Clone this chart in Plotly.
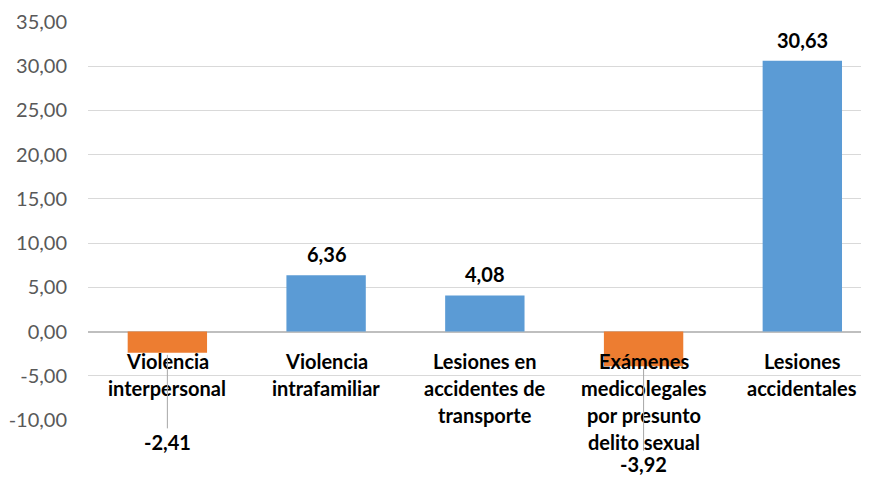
import plotly.graph_objects as go

categories = [
    "Violencia interpersonal",
    "Violencia intrafamiliar",
    "Lesiones en accidentes de transporte",
    "Exámenes medicolegales por presunto delito sexual",
    "Lesiones accidentales",
]
label_lines = [
    ["Violencia", "interpersonal"],
    ["Violencia", "intrafamiliar"],
    ["Lesiones en", "accidentes de", "transporte"],
    ["Exámenes", "medicolegales", "por presunto", "delito sexual"],
    ["Lesiones", "accidentales"],
]
values = [-2.41, 6.36, 4.08, -3.92, 30.63]
tick_values = [-10, -5, 0, 5, 10, 15, 20, 25, 30, 35]
tick_labels = ["-10,00", "-5,00", "0,00", "5,00", "10,00", "15,00",
               "20,00", "25,00", "30,00", "35,00"]
neg_label_offsets = {0: 89, 3: 98}

BLUE = "#5b9bd5"
ORANGE = "#ed7d31"
colors = [BLUE if v >= 0 else ORANGE for v in values]

def fmt(v):
    return f"{v:.2f}".replace(".", ",")

fig = go.Figure()
fig.add_trace(go.Bar(
    x=categories, y=values, width=0.5,
    marker=dict(color=colors, line=dict(width=0)),
    hoverinfo="skip",
))

FONT = "Lato, Open Sans, sans-serif"
annotations = []
for i, (cat, lines) in enumerate(zip(categories, label_lines)):
    for j, line in enumerate(lines):
        annotations.append(dict(
            x=cat, y=0, xref="x", yref="y", text=f"<b>{line}</b>",
            showarrow=False, yanchor="middle", yshift=-29 - j * 27,
            font=dict(family=FONT, size=20, color="#000000"),
        ))
for i, (cat, v) in enumerate(zip(categories, values)):
    if v >= 0:
        annotations.append(dict(
            x=cat, y=v, xref="x", yref="y", text=f"<b>{fmt(v)}</b>",
            showarrow=False, yanchor="middle", yshift=21,
            font=dict(family=FONT, size=20, color="#000000"),
        ))
    else:
        annotations.append(dict(
            x=cat, y=v, xref="x", yref="y", text=f"<b>{fmt(v)}</b>",
            showarrow=True, arrowhead=0, arrowwidth=1, arrowcolor="#a6a6a6",
            ax=0, ay=neg_label_offsets.get(i, 90), standoff=2,
            font=dict(family=FONT, size=20, color="#000000"),
        ))

fig.update_layout(
    width=861, height=471,
    margin=dict(l=80, r=0, t=14, b=59),
    paper_bgcolor="white", plot_bgcolor="white",
    showlegend=False,
    bargap=0.5,
    annotations=annotations,
    xaxis=dict(
        type="category", range=[-0.5, 4.42], showticklabels=False,
        showgrid=False, zeroline=False, showline=False, ticks="",
    ),
    yaxis=dict(
        range=[-10, 35], tickmode="array", tickvals=tick_values, ticktext=tick_labels,
        showgrid=True, gridcolor="#d9d9d9", gridwidth=1,
        zeroline=True, zerolinecolor="#bfbfbf", zerolinewidth=2,
        showline=False, ticks="", ticklabelstandoff=20,
        tickfont=dict(family=FONT, size=20, color="#595959"),
    ),
)
fig.data[0].cliponaxis = False
fig.write_html("out.html")
